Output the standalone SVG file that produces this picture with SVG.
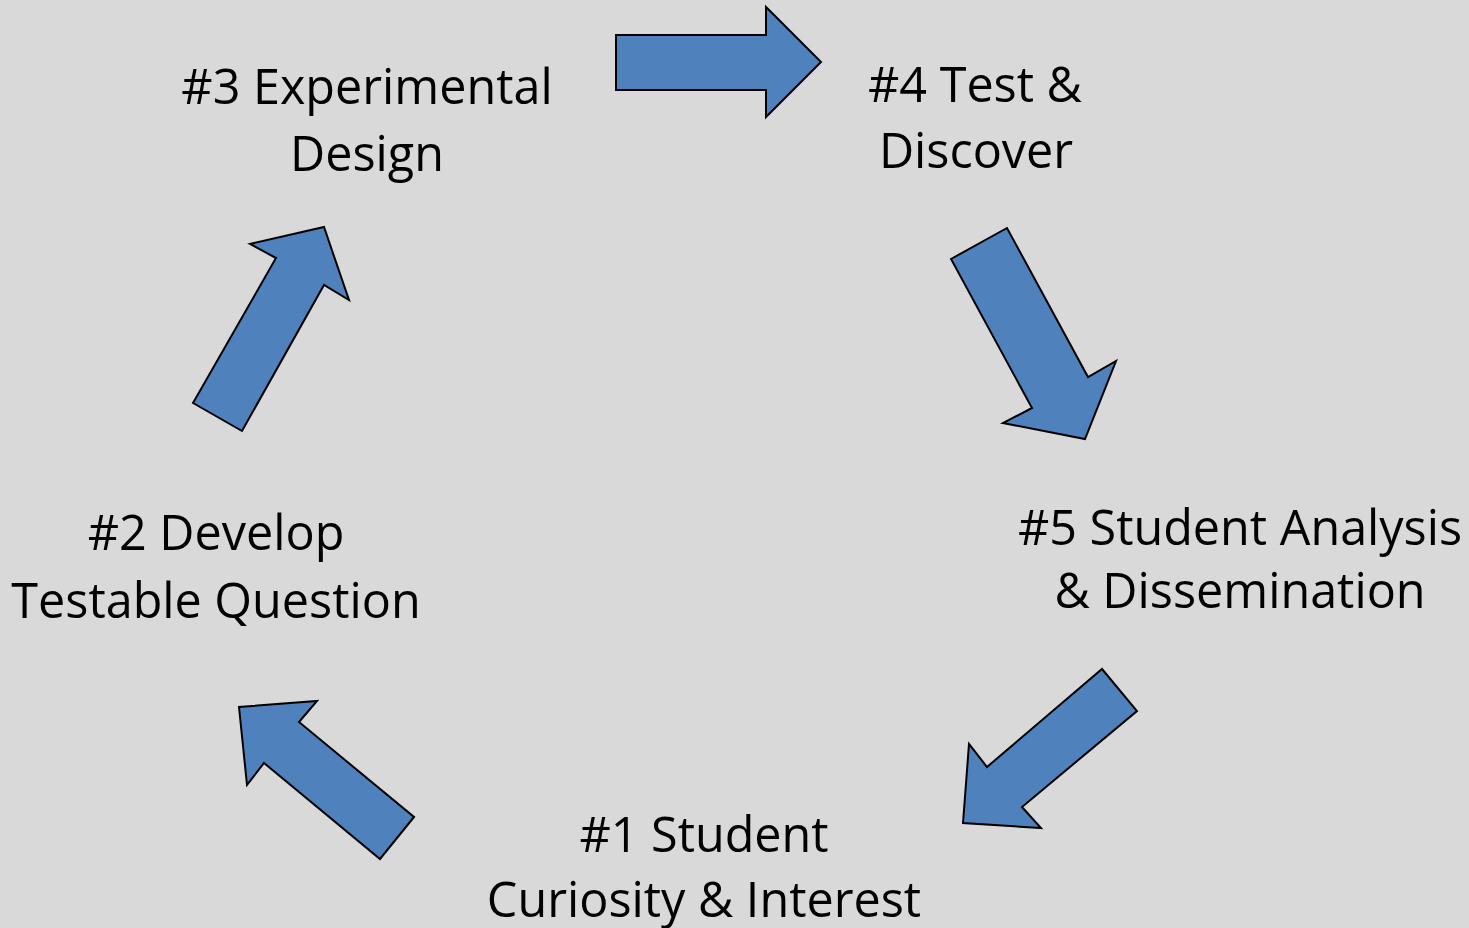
<svg xmlns="http://www.w3.org/2000/svg" width="1469" height="928" viewBox="0 0 1469 928">
<style>
.bg{fill:#d9d9d9}
.arr{fill:#4f81bd;stroke:#000;stroke-width:2;stroke-linejoin:miter}
.lbl{font-family:"Open Sans","Liberation Sans",sans-serif;font-size:48.5px;fill:#000;text-anchor:middle}
</style>
<rect class="bg" x="0" y="0" width="1469" height="928"/>
<g id="connectors">
<polygon id="a34" class="arr" points="616,35 766,35 766,7 821,62 766,117 766,90 616,90"/>
<polygon id="a45" class="arr" points="951,259 1007,228 1088,377 1116,361 1085,439 1003,423 1032,408"/>
<polygon id="a51" class="arr" points="1102,669 1137,711 1022,807 1041,828 963,823 969,744 987,767"/>
<polygon id="a12" class="arr" points="414,817 380,859 264,763 247,785 239,707 317,701 299,722"/>
<polygon id="a23" class="arr" points="193,403 276,258 250,244 324,227 349,300 324,285 242,431"/>
</g>
<g id="n3"><text class="lbl" x="367" y="104">#3 Experimental</text><text class="lbl" x="367" y="171">Design</text></g>
<g id="n4"><text class="lbl" x="975" y="102">#4 Test &amp;</text><text class="lbl" x="976" y="168">Discover</text></g>
<g id="n2"><text class="lbl" x="216" y="550">#2 Develop</text><text class="lbl" x="216" y="618">Testable Question</text></g>
<g id="n5"><text class="lbl" x="1240" y="545">#5 Student Analysis</text><text class="lbl" x="1240" y="608">&amp; Dissemination</text></g>
<g id="n1"><text class="lbl" x="704" y="852">#1 Student</text><text class="lbl" x="704" y="917">Curiosity &amp; Interest</text></g>
</svg>
